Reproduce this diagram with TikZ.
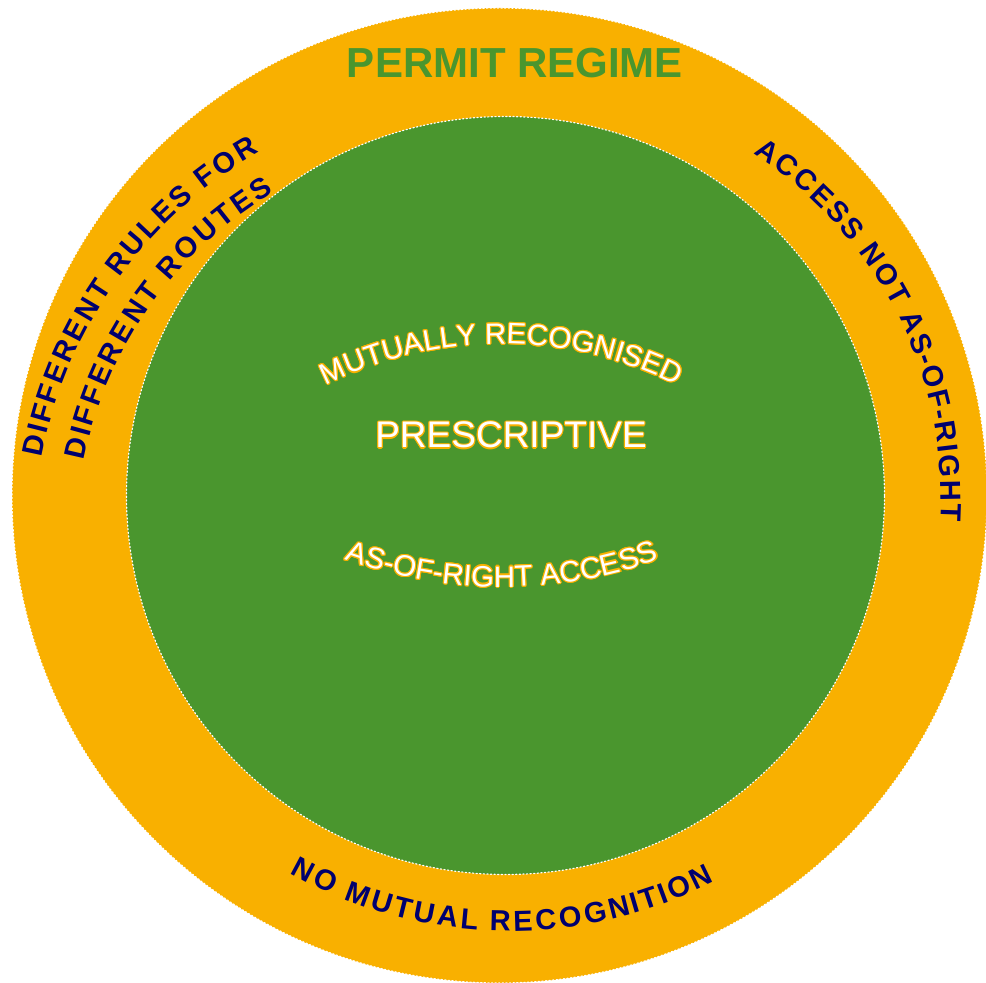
\documentclass[tikz,border=0pt]{standalone}
\usepackage{fontspec}
\setmainfont{Liberation Sans}
\newfontfamily\ringfamily{Liberation Sans Bold}
\usetikzlibrary{decorations.text, positioning}

\definecolor{ringorange}{RGB}{249,176,0}
\definecolor{coregreen}{RGB}{74,150,46}
\definecolor{labelnavy}{RGB}{0,0,110}

\newcommand{\ringfont}{\ringfamily\fontsize{29}{29}\selectfont}
\newcommand{\corefont}{\fontsize{29.5}{30}\selectfont}

\begin{document}
\begin{tikzpicture}[x=1pt, y=1pt, line cap=round, line join=round]
	
	\def\Ro{487.5}
	\def\Ri{379}
	\def\glow{1.1}
	
	\coordinate (O)  at (499.5,487.5);
	\coordinate (I)  at (505.5,487.5);
	\coordinate (CL) at (480,443);
	\coordinate (CR) at (531,485);
	\coordinate (CB) at (510,501);
	\coordinate (CT) at (501.5,246);
	\coordinate (CU) at (502,860);
	
	\tikzset{
		rim/.style={draw=white, line width=1.2pt, dash pattern=on 1.2pt off 2.4pt},
		ringlabel/.style={font=\ringfont, decorate, decoration={text effects along path, text={#1},
			text effects/.cd, text along path, fit text to path,
			characters={text=labelnavy, font=\ringfont}}},
		corelabel/.style 2 args={decorate, decoration={text along path, text={|\corefont|#1},
			text align=center, text color=#2}}
	}
	
	\useasboundingbox (0,0) rectangle (986,983);
	
	\fill[ringorange] (O) circle[radius=\Ro];
	\draw[rim] (O) circle[radius=\Ro];
	\fill[coregreen] (I) circle[radius=\Ri];
	\draw[rim] (I) circle[radius=\Ri];
	
	\node[anchor=base, font=\fontsize{42}{42}\selectfont\bfseries, text=coregreen] (regime) at (515,905) {PERMIT REGIME};
	
	% outer ring
	\path[ringlabel={DIFFERENT RULES FOR}] ([shift={(169.3:446)}]CL) arc[start angle=169.3, end angle=119.6, radius=446];
	\path[ringlabel={DIFFERENT ROUTES}] ([shift={(168.6:404)}]CL) arc[start angle=168.6, end angle=120.6, radius=404];
	\path[ringlabel={ACCESS NOT AS-OF-RIGHT}] ([shift={(57.2:410)}]CR) arc[start angle=57.2, end angle=-3.2, radius=410];
	\path[ringlabel={NO MUTUAL RECOGNITION}] ([shift={(240.6:449)}]CB) arc[start angle=240.6, end angle=297.1, radius=449];
	
	% core: orange edge under the white letters
	\foreach \a [count=\i] in {0,30,...,330} {
		\path[corelabel={MUTUALLY RECOGNISED}{ringorange}] ([shift={(\a:\glow)}, shift={(140:393)}]CT) arc[start angle=140, end angle=40, radius=393];
		\path[corelabel={AS-OF-RIGHT ACCESS}{ringorange}] ([shift={(\a:\glow)}, shift={(230:464)}]CU) arc[start angle=230, end angle=310, radius=464];
		\node[anchor=base, shift={(\a:\glow)}, font=\fontsize{37}{37}\selectfont, text=ringorange] (edge\i) at (511,535) {PRESCRIPTIVE};
	}
	\path[corelabel={MUTUALLY RECOGNISED}{white}] ([shift={(140:393)}]CT) arc[start angle=140, end angle=40, radius=393];
	\path[corelabel={AS-OF-RIGHT ACCESS}{white}] ([shift={(230:464)}]CU) arc[start angle=230, end angle=310, radius=464];
	\node[anchor=base, font=\fontsize{37}{37}\selectfont, text=white] (prescriptive) at (511,535) {PRESCRIPTIVE};
	
\end{tikzpicture}
\end{document}
